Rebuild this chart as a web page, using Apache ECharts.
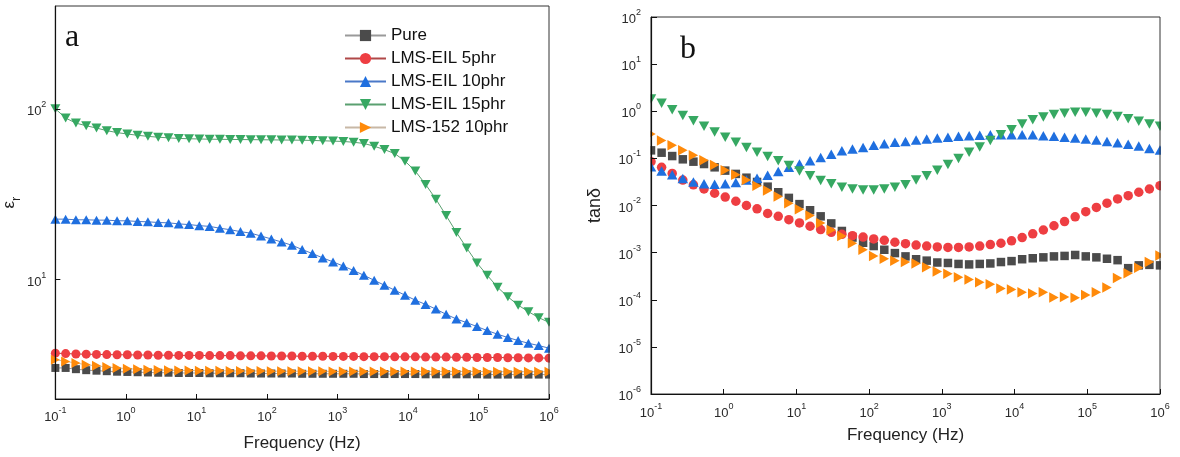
<!DOCTYPE html>
<html>
<head>
<meta charset="utf-8">
<script src="https://cdn.jsdelivr.net/npm/echarts@6/dist/echarts.min.js"></script>
<style>
  html, body { margin: 0; padding: 0; background: #fff; }
  #chart { width: 1180px; height: 457px; }
</style>
</head>
<body>
<div id="chart"></div>
<script>
// Measurement frequencies (Hz), log-spaced from 0.1 Hz to 1 MHz
const freq = [
  0.1, 0.1399, 0.1957, 0.2738, 0.3831, 0.5361, 0.7499, 1.049, 1.468, 2.054,
  2.873, 4.019, 5.623, 7.867, 11.01, 15.40, 21.54, 30.14, 42.17, 58.99,
  82.54, 115.5, 161.6, 226.0, 316.2, 442.5, 619.0, 866.0, 1212, 1695,
  2371, 3318, 4642, 6494, 9085, 12711, 17783, 24880, 34807, 48697,
  68129, 95316, 133352, 186566, 261016, 365174, 510897, 714771, 1000000
];

const seriesNames = ['Pure', 'LMS-EIL 5phr', 'LMS-EIL 10phr', 'LMS-EIL 15phr', 'LMS-152 10phr'];

// (a) relative permittivity
const epsPure = [3.04, 3.04, 2.99, 2.95, 2.93, 2.91, 2.89, 2.88, 2.87, 2.86,
  2.85, 2.85, 2.84, 2.84, 2.84, 2.83, 2.83, 2.83, 2.83, 2.82,
  2.82, 2.82, 2.82, 2.82, 2.81, 2.81, 2.81, 2.81, 2.81, 2.81,
  2.80, 2.80, 2.80, 2.80, 2.80, 2.80, 2.79, 2.79, 2.79, 2.79,
  2.79, 2.79, 2.78, 2.78, 2.78, 2.78, 2.78, 2.78, 2.78];
const eps5 = [3.71, 3.69, 3.67, 3.66, 3.65, 3.64, 3.63, 3.63, 3.62, 3.62,
  3.61, 3.61, 3.60, 3.60, 3.60, 3.59, 3.59, 3.59, 3.58, 3.58,
  3.58, 3.57, 3.57, 3.57, 3.56, 3.56, 3.56, 3.55, 3.55, 3.55,
  3.54, 3.54, 3.54, 3.53, 3.53, 3.53, 3.52, 3.52, 3.52, 3.51,
  3.51, 3.50, 3.50, 3.50, 3.49, 3.49, 3.48, 3.48, 3.47];
const eps10 = [22.6, 22.6, 22.4, 22.4, 22.3, 22.3, 22.1, 22.1, 21.9, 21.8,
  21.6, 21.5, 21.2, 21.0, 20.7, 20.5, 20.0, 19.6, 19.1, 18.7,
  18.0, 17.3, 16.6, 15.9, 15.0, 14.2, 13.4, 12.7, 12.0, 11.3,
  10.6, 9.91, 9.27, 8.67, 8.11, 7.58, 7.16, 6.72, 6.26, 5.88,
  5.60, 5.31, 5.03, 4.79, 4.58, 4.40, 4.24, 4.11, 3.97];
const eps15 = [100, 88.3, 82.5, 79.6, 77.2, 74.5, 72.6, 71.2, 70.0, 69.0,
  68.2, 67.6, 67.1, 66.8, 66.6, 66.4, 66.3, 66.2, 66.1, 66.0,
  65.9, 65.8, 65.7, 65.6, 65.5, 65.3, 65.0, 64.7, 64.4, 63.7,
  62.7, 60.4, 57.7, 54.7, 49.4, 43.2, 36.1, 29.6, 23.7, 18.9,
  15.3, 12.5, 10.6, 9.02, 7.93, 7.09, 6.49, 5.99, 5.62];
const eps152 = [3.40, 3.32, 3.25, 3.17, 3.13, 3.08, 3.04, 3.01, 2.99, 2.97,
  2.96, 2.95, 2.94, 2.94, 2.93, 2.93, 2.93, 2.92, 2.92, 2.92,
  2.92, 2.91, 2.91, 2.91, 2.91, 2.91, 2.91, 2.90, 2.90, 2.90,
  2.90, 2.90, 2.90, 2.90, 2.90, 2.90, 2.90, 2.90, 2.90, 2.90,
  2.90, 2.90, 2.89, 2.89, 2.89, 2.89, 2.89, 2.89, 2.89];

// (b) dielectric loss tangent
const tanPure = [0.148, 0.132, 0.112, 0.0955, 0.0851, 0.0759, 0.0646, 0.0550, 0.0468, 0.0389,
  0.0316, 0.0251, 0.0191, 0.0145, 0.0107, 0.00794, 0.00589, 0.00417, 0.00288, 0.00209,
  0.00162, 0.00138, 0.00115, 0.000977, 0.000832, 0.000724, 0.000676, 0.000617, 0.000603, 0.000575,
  0.000562, 0.000575, 0.000589, 0.000631, 0.000661, 0.000724, 0.000759, 0.000794, 0.000832, 0.000851,
  0.000891, 0.000832, 0.000794, 0.000741, 0.000692, 0.000468, 0.000537, 0.000550, 0.000537];
const tan5 = [0.0851, 0.0646, 0.0479, 0.0347, 0.0275, 0.0224, 0.0182, 0.0151, 0.0123, 0.0100,
  0.00851, 0.00676, 0.00589, 0.00501, 0.00427, 0.00363, 0.00309, 0.00269, 0.00245, 0.00229,
  0.00214, 0.00195, 0.00182, 0.00166, 0.00155, 0.00145, 0.00138, 0.00132, 0.00129, 0.00129,
  0.00132, 0.00138, 0.00148, 0.00158, 0.00178, 0.00209, 0.00251, 0.00302, 0.00372, 0.00457,
  0.00575, 0.00741, 0.00912, 0.0112, 0.0138, 0.0162, 0.0191, 0.0224, 0.0263];
const tan10 = [0.0661, 0.0537, 0.0447, 0.0372, 0.0316, 0.0288, 0.0282, 0.0288, 0.0309, 0.0347,
  0.0380, 0.0437, 0.0525, 0.0646, 0.0759, 0.0891, 0.105, 0.123, 0.145, 0.158,
  0.170, 0.191, 0.204, 0.219, 0.229, 0.245, 0.257, 0.269, 0.282, 0.295,
  0.302, 0.309, 0.316, 0.316, 0.316, 0.316, 0.316, 0.302, 0.295, 0.282,
  0.269, 0.257, 0.245, 0.229, 0.214, 0.200, 0.182, 0.162, 0.151];
const tan15 = [1.82, 1.48, 1.07, 0.813, 0.631, 0.479, 0.363, 0.282, 0.219, 0.170,
  0.135, 0.110, 0.0891, 0.0708, 0.0537, 0.0427, 0.0339, 0.0288, 0.0245, 0.0224,
  0.0214, 0.0214, 0.0224, 0.0245, 0.0275, 0.0347, 0.0427, 0.0562, 0.0741, 0.100,
  0.135, 0.174, 0.240, 0.316, 0.407, 0.537, 0.661, 0.759, 0.851, 0.912,
  0.955, 0.955, 0.912, 0.851, 0.776, 0.692, 0.617, 0.537, 0.479];
const tan152 = [0.331, 0.240, 0.191, 0.148, 0.117, 0.0912, 0.0724, 0.0562, 0.0447, 0.0347,
  0.0263, 0.0209, 0.0155, 0.0112, 0.00832, 0.00617, 0.00427, 0.00302, 0.00224, 0.00158,
  0.00115, 0.000851, 0.000741, 0.000676, 0.000631, 0.000589, 0.000490, 0.000398, 0.000355, 0.000302,
  0.000269, 0.000234, 0.000214, 0.000174, 0.000166, 0.000145, 0.000135, 0.000145, 0.000112, 0.000115,
  0.000110, 0.000126, 0.000145, 0.000182, 0.000288, 0.000363, 0.000479, 0.000631, 0.000871];

// Tick positions (decades)
const freqTicks = [0.1, 1, 10, 100, 1000, 10000, 100000, 1000000];
const epsTicks = [10, 100];
const tanTicks = [1e-6, 1e-5, 1e-4, 1e-3, 1e-2, 1e-1, 1, 10, 100];

// Marker styles for each sample
const markerColor = ['#4b4b4b', '#ee3e42', '#1f6fdf', '#36a862', '#ff8a0a'];
const lineColor = ['#9a9a9a', '#b04848', '#4a78c8', '#5aa070', '#c8b8a6'];
const markerShape = [
  'rect',
  'circle',
  'triangle',
  'path://M0,0 L10,0 L5,9 Z',
  'path://M0,0 L9,5 L0,10 Z'
];
const markerSizeA = [8, 9, [10, 9], [10, 9], [9, 10]];
const markerSizeB = [8.5, 9.5, [10.5, 9.5], [10.5, 9.5], [9.5, 10.5]];

const epsData = [epsPure, eps5, eps10, eps15, eps152];
const tanData = [tanPure, tan5, tan10, tan15, tan152];

function pairs(ys) { return freq.map((f, i) => [f, ys[i]]); }

function powLabel(v) {
  const e = Math.round(Math.log10(v));
  return '{b|10}{s|' + e + '}';
}
const tickRich = {
  b: { fontSize: 13, fontFamily: 'Liberation Sans, Arial', color: '#2a2a2a', lineHeight: 18, verticalAlign: 'bottom' },
  s: { fontSize: 9, fontFamily: 'Liberation Sans, Arial', color: '#2a2a2a', lineHeight: 18, verticalAlign: 'top' }
};

function logXAxis(gridIndex, labelMargin) {
  return {
    type: 'log', logBase: 10, gridIndex: gridIndex,
    min: 0.1, max: 1000000, z: 60,
    name: 'Frequency (Hz)', nameLocation: 'middle', nameGap: gridIndex === 0 ? 36 : 33,
    nameTextStyle: { fontFamily: 'Liberation Sans, Arial', fontSize: 17, color: '#222' },
    axisLine: { show: true, onZero: false, lineStyle: { color: '#111', width: 1.2 } },
    axisTick: { show: true, inside: true, length: 5, customValues: freqTicks, lineStyle: { color: '#111' } },
    minorTick: { show: false },
    axisLabel: { customValues: freqTicks, margin: labelMargin, formatter: powLabel, rich: tickRich },
    splitLine: { show: false }
  };
}

const seriesA = epsData.map((ys, i) => ({
  name: seriesNames[i], type: 'line', xAxisIndex: 0, yAxisIndex: 0,
  data: pairs(ys), symbol: markerShape[i], symbolSize: markerSizeA[i],
  showAllSymbol: true, clip: true,
  itemStyle: { color: markerColor[i] },
  lineStyle: { color: lineColor[i], width: 1 },
  emphasis: { disabled: true }, animation: false
}));
const seriesB = tanData.map((ys, i) => ({
  name: seriesNames[i], type: 'scatter', xAxisIndex: 1, yAxisIndex: 1,
  data: pairs(ys), symbol: markerShape[i], symbolSize: markerSizeB[i],
  clip: true,
  itemStyle: { color: markerColor[i], opacity: 1 },
  emphasis: { disabled: true }, animation: false
}));

// White strips that trim the half of each edge marker falling outside the frame
const trims = [
  { x: 40, y: 0, w: 8.5, h: 399 },
  { x: 550, y: 0, w: 10, h: 399 },
  { x: 642, y: 10, w: 8.5, h: 383 },
  { x: 1161, y: 10, w: 12, h: 383 }
].map(r => ({
  type: 'rect', z: 50, silent: true,
  shape: { x: r.x, y: r.y, width: r.w, height: r.h },
  style: { fill: '#fff' }
}));

const option = {
  backgroundColor: '#fff',
  animation: false,
  grid: [
    { left: 49, top: 6, width: 500, height: 394, show: true, borderColor: '#333', borderWidth: 1, z: 60 },
    { left: 651, top: 17, width: 509, height: 377, show: true, borderColor: '#333', borderWidth: 1, z: 60 }
  ],
  legend: {
    data: seriesNames,
    orient: 'vertical', left: 339, top: 22,
    itemWidth: 41, itemHeight: 14, itemGap: 6,
    textStyle: { fontFamily: 'Liberation Sans, Arial', fontSize: 17, color: '#111' },
    selectedMode: false
  },
  xAxis: [logXAxis(0, 7), logXAxis(1, 8)],
  yAxis: [
    {
      type: 'log', logBase: 10, gridIndex: 0, min: 2, max: 400, z: 60,
      name: '{e|ε}{r|r}', nameLocation: 'middle', nameGap: 32, nameRotate: 90,
      nameTextStyle: {
        rich: {
          e: { fontSize: 17, fontFamily: 'Liberation Sans, Arial', color: '#222', lineHeight: 22, verticalAlign: 'top' },
          r: { fontSize: 13, fontFamily: 'Liberation Sans, Arial', color: '#222', lineHeight: 22, verticalAlign: 'bottom' }
        }
      },
      axisLine: { show: true, lineStyle: { color: '#111', width: 1.2 } },
      axisTick: { show: true, inside: true, length: 5, customValues: epsTicks, lineStyle: { color: '#111' } },
      minorTick: { show: false },
      axisLabel: { customValues: epsTicks, margin: 9, formatter: powLabel, rich: tickRich },
      splitLine: { show: false }
    },
    {
      type: 'log', logBase: 10, gridIndex: 1, min: 1e-6, max: 100, z: 60,
      name: 'tanδ', nameLocation: 'middle', nameGap: 47, nameRotate: 90,
      nameTextStyle: { fontFamily: 'Liberation Sans, Arial', fontSize: 18, color: '#222' },
      axisLine: { show: true, lineStyle: { color: '#111', width: 1.2 } },
      axisTick: { show: true, inside: true, length: 6, customValues: tanTicks, lineStyle: { color: '#111' } },
      minorTick: { show: false },
      axisLabel: { customValues: tanTicks, margin: 10, formatter: powLabel, rich: tickRich },
      splitLine: { show: false }
    }
  ],
  graphic: trims.concat([
    { type: 'text', left: 65, top: 22, z: 70, style: { text: 'a', font: '32px "Liberation Serif", serif', fill: '#111' } },
    { type: 'text', left: 680, top: 34, z: 70, style: { text: 'b', font: '32px "Liberation Serif", serif', fill: '#111' } }
  ]),
  series: seriesA.concat(seriesB)
};

const chart = echarts.init(document.getElementById('chart'), null, { renderer: 'canvas' });
chart.setOption(option);
</script>
</body>
</html>
